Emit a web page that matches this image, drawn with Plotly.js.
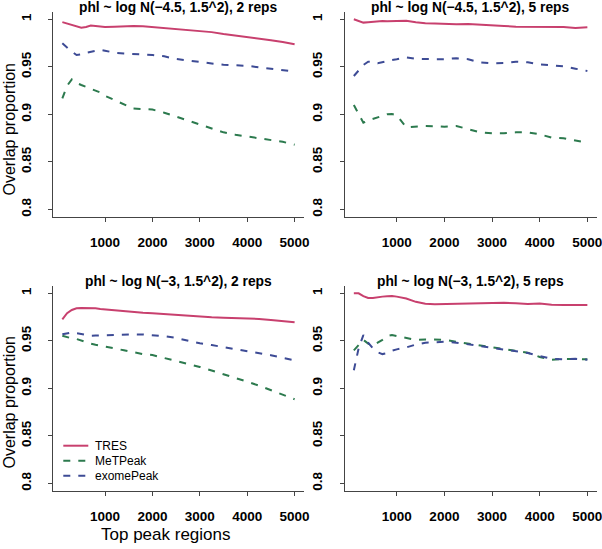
<!DOCTYPE html>
<html>
<head>
<meta charset="utf-8">
<script src="https://cdn.plot.ly/plotly-3.0.1.min.js"></script>
<style>html,body{margin:0;padding:0;background:#fff;}#chart{width:602px;height:549px;}</style>
</head>
<body>
<div id="chart"></div>
<script>
// ---------- data ----------
const topRegions = [100, 200, 300, 400, 500, 600, 700, 800, 900, 1000, 1200, 1400, 1600, 1800, 2000, 2250, 2500, 2750, 3000, 3250, 3500, 3750, 4000, 4250, 4500, 4750, 5000];

const seriesNames = ["TRES", "MeTPeak", "exomePeak"];
const panelTitles = [
  "phl ~ log N(\u22124.5, 1.5^2), 2 reps",
  "phl ~ log N(\u22124.5, 1.5^2), 5 reps",
  "phl ~ log N(\u22123, 1.5^2), 2 reps",
  "phl ~ log N(\u22123, 1.5^2), 5 reps"
];
const xTickVals = [1000, 2000, 3000, 4000, 5000];
const yTickVals = [0.8, 0.85, 0.9, 0.95, 1];
const yTickText = ["0.8", "0.85", "0.9", "0.95", "1"];

// panel 1: -4.5, 2 reps
const tres1    = [0.997, 0.9955, 0.994, 0.992, 0.9912, 0.992, 0.9935, 0.993, 0.9925, 0.992, 0.9922, 0.9928, 0.993, 0.9928, 0.992, 0.991, 0.9895, 0.9885, 0.9878, 0.9865, 0.9845, 0.983, 0.9815, 0.9795, 0.978, 0.976, 0.9737];
const metpeak1 = [0.9168, 0.930, 0.9368, 0.933, 0.9308, 0.929, 0.927, 0.9255, 0.923, 0.9195, 0.915, 0.910, 0.906, 0.9055, 0.905, 0.9017, 0.8975, 0.893, 0.889, 0.885, 0.881, 0.8785, 0.8765, 0.8747, 0.8725, 0.871, 0.868];
const exome1   = [0.9747, 0.970, 0.966, 0.9624, 0.963, 0.9648, 0.966, 0.967, 0.9677, 0.967, 0.9648, 0.964, 0.9632, 0.963, 0.9624, 0.961, 0.9582, 0.9565, 0.955, 0.9535, 0.9522, 0.9515, 0.951, 0.9495, 0.948, 0.9465, 0.945];

// panel 2: -4.5, 5 reps
const tres2    = [1.0, 0.998, 0.9965, 0.997, 0.9975, 0.998, 0.9982, 0.998, 0.9982, 0.9985, 0.9985, 0.997, 0.9958, 0.9955, 0.995, 0.9948, 0.995, 0.9945, 0.994, 0.993, 0.9922, 0.992, 0.9918, 0.9915, 0.992, 0.9908, 0.9915];
const metpeak2 = [0.9098, 0.900, 0.8912, 0.8935, 0.895, 0.897, 0.8985, 0.900, 0.9003, 0.899, 0.8863, 0.887, 0.8877, 0.8875, 0.887, 0.8877, 0.8845, 0.881, 0.880, 0.880, 0.881, 0.881, 0.879, 0.8755, 0.8747, 0.8725, 0.870];
const exome2   = [0.9403, 0.946, 0.9519, 0.9554, 0.955, 0.9537, 0.955, 0.956, 0.9572, 0.958, 0.960, 0.9585, 0.9579, 0.9579, 0.958, 0.959, 0.958, 0.9545, 0.9537, 0.954, 0.9554, 0.9547, 0.9526, 0.9515, 0.9505, 0.948, 0.9456];

// panel 3: -3, 2 reps
const tres3    = [0.9726, 0.979, 0.9825, 0.9842, 0.9845, 0.9845, 0.9843, 0.9842, 0.9835, 0.983, 0.982, 0.981, 0.980, 0.9795, 0.9789, 0.978, 0.9767, 0.976, 0.9755, 0.9747, 0.9743, 0.974, 0.9735, 0.973, 0.972, 0.971, 0.9695];
const metpeak3 = [0.9554, 0.9538, 0.9525, 0.9519, 0.950, 0.9485, 0.947, 0.9458, 0.945, 0.9435, 0.942, 0.940, 0.938, 0.936, 0.935, 0.932, 0.929, 0.9255, 0.9225, 0.9187, 0.915, 0.911, 0.907, 0.9028, 0.898, 0.8935, 0.8885];
const exome3   = [0.9568, 0.958, 0.9589, 0.958, 0.957, 0.9558, 0.9554, 0.9556, 0.9558, 0.956, 0.9563, 0.9566, 0.9568, 0.9566, 0.9561, 0.9548, 0.953, 0.950, 0.9474, 0.9455, 0.9435, 0.9415, 0.9395, 0.937, 0.9348, 0.932, 0.9295];

// panel 4: -3, 5 reps
const tres4    = [1.0, 1.0, 0.997, 0.995, 0.995, 0.996, 0.9965, 0.997, 0.9972, 0.9965, 0.9945, 0.991, 0.989, 0.9884, 0.9887, 0.9887, 0.9888, 0.9895, 0.9903, 0.990, 0.9895, 0.9888, 0.9893, 0.988, 0.9877, 0.9877, 0.9877];
const metpeak4 = [0.940, 0.946, 0.951, 0.947, 0.945, 0.948, 0.951, 0.955, 0.956, 0.955, 0.953, 0.951, 0.9515, 0.9515, 0.951, 0.949, 0.947, 0.945, 0.943, 0.941, 0.939, 0.9375, 0.933, 0.930, 0.931, 0.931, 0.9305];
const exome4   = [0.919, 0.942, 0.956, 0.948, 0.942, 0.938, 0.936, 0.937, 0.9395, 0.941, 0.943, 0.946, 0.948, 0.9485, 0.949, 0.948, 0.9465, 0.9445, 0.9425, 0.9405, 0.9388, 0.9372, 0.934, 0.931, 0.9305, 0.931, 0.930];

// ---------- styles ----------
const W = 602, H = 549;
const FONT = "Liberation Sans, Arial, Helvetica, sans-serif";
const styles = [
  {color: "#C8406E", dash: "solid", width: 2},
  {color: "#2C7A4E", dash: "7px,8px", width: 2},
  {color: "#3D4B95", dash: "7px,8px", width: 2}
];
const panelData = [
  [tres1, metpeak1, exome1],
  [tres2, metpeak2, exome2],
  [tres3, metpeak3, exome3],
  [tres4, metpeak4, exome4]
];

const colDom = [[53.05 / W, 303.9 / W], [344.5 / W, 596.7 / W]];
const rowDom = [[1 - 216.9 / H, 1 - 11.7 / H], [1 - 490.9 / H, 1 - 285.7 / H]];
const fx = p => p / W;
const fy = p => 1 - p / H;

const traces = [];
const layout = {
  width: W, height: H,
  margin: {l: 0, r: 0, t: 0, b: 0},
  paper_bgcolor: "#fff", plot_bgcolor: "#fff",
  showlegend: false,
  font: {family: FONT, color: "#000"},
  annotations: [], shapes: []
};

for (let p = 0; p < 4; p++) {
  const row = Math.floor(p / 2), col = p % 2;
  const sfx = p === 0 ? "" : String(p + 1);
  const xa = "x" + sfx, ya = "y" + sfx;
  panelData[p].forEach((vals, s) => {
    traces.push({
      type: "scatter", mode: "lines", x: topRegions, y: vals,
      xaxis: xa, yaxis: ya, name: seriesNames[s],
      line: {color: styles[s].color, dash: styles[s].dash, width: styles[s].width},
      hoverinfo: "skip"
    });
  });
  const common = {
    showline: true, linecolor: "#444", linewidth: 1,
    ticks: "outside", ticklen: 4, tickcolor: "#444", tickwidth: 1,
    showgrid: false, zeroline: false, fixedrange: true,
    ticklabeloverflow: "allow",
    tickfont: {family: FONT, size: 13.5, color: "#000", weight: "bold"}
  };
  layout["xaxis" + sfx] = Object.assign({}, common, {
    domain: colDom[col], anchor: ya, range: [-96, 5196],
    tickmode: "array", tickvals: xTickVals, ticklabelstandoff: 9
  });
  layout["yaxis" + sfx] = Object.assign({}, common, {
    domain: rowDom[row], anchor: xa, range: [0.792, 1.008],
    tickmode: "array", tickvals: yTickVals, ticktext: yTickText,
    tickangle: -90, ticklabelstandoff: 12
  });
  // panel title
  const cx = (colDom[col][0] + colDom[col][1]) / 2;
  layout.annotations.push({
    xref: "paper", yref: "paper", x: cx, y: fy(row === 0 ? 7.5 : 281.5),
    xanchor: "center", yanchor: "middle", showarrow: false,
    text: panelTitles[p], font: {family: FONT, size: 13.8, color: "#000", weight: "bold"}
  });
  if (col === 0) {
    layout.annotations.push({
      xref: "paper", yref: "paper", x: fx(8.5), y: fy(row === 0 ? 129 : 402),
      xanchor: "center", yanchor: "middle", showarrow: false, textangle: -90,
      text: "Overlap proportion", font: {family: FONT, size: 16, color: "#000"}
    });
  }
}

// x axis title (bottom-left)
layout.annotations.push({
  xref: "paper", yref: "paper", x: fx(166), y: fy(534),
  xanchor: "center", yanchor: "middle", showarrow: false,
  text: "Top peak regions", font: {family: FONT, size: 17, color: "#000"}
});

// legend (bottom-left panel)
const legRows = [445.7, 460.7, 475.7];
seriesNames.forEach((nm, s) => {
  layout.shapes.push({
    type: "line", xref: "paper", yref: "paper",
    x0: fx(63.3), x1: fx(88.3), y0: fy(legRows[s]), y1: fy(legRows[s]),
    line: {color: styles[s].color, dash: styles[s].dash, width: styles[s].width}
  });
  layout.annotations.push({
    xref: "paper", yref: "paper", x: fx(93), y: fy(legRows[s]),
    xanchor: "left", yanchor: "middle", showarrow: false,
    text: nm, font: {family: FONT, size: 12, color: "#000"}
  });
});

Plotly.newPlot("chart", traces, layout, {displayModeBar: false, staticPlot: true});
</script>
</body>
</html>
